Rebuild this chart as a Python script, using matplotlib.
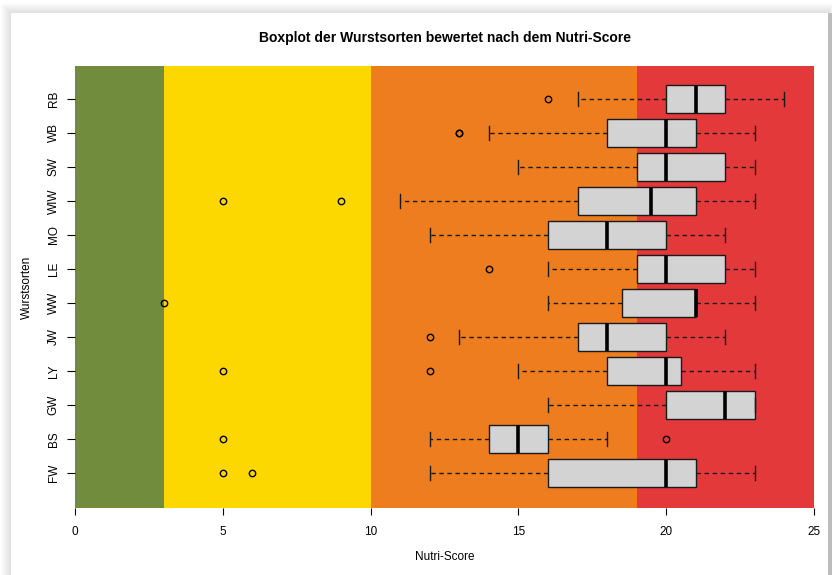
import matplotlib
matplotlib.use("Agg")
import matplotlib.pyplot as plt
from matplotlib.patches import Rectangle

plt.rcParams['font.family'] = ['Liberation Sans', 'DejaVu Sans']

# Wurstsorten (unten -> oben) und ihre Boxplot-Kennzahlen
sorten = ['FW', 'BS', 'GW', 'LY', 'JW', 'WW', 'LE', 'MO', 'WIW', 'SW', 'WB', 'RB']
whisker_lo = [12, 12, 16, 15, 13, 16, 16, 12, 11, 15, 14, 17]
q1 = [16, 14, 20, 18, 17, 18.5, 19, 16, 17, 19, 18, 20]
median = [20, 15, 22, 20, 18, 21, 20, 18, 19.5, 20, 20, 21]
q3 = [21, 16, 23, 20.5, 20, 21, 22, 20, 21, 22, 21, 22]
whisker_hi = [23, 18, 23, 23, 22, 23, 23, 22, 23, 23, 23, 24]
ausreisser = [[5, 6], [5, 20], [], [5, 12], [12], [3], [14], [], [5, 9], [], [13, 13], [16]]

# Nutri-Score Farbbereiche
band_grenzen = [0, 3, 10, 19, 25]
band_farben = ['#708C3C', '#FDD700', '#EE7D1F', '#E4393A']
x_ticks = [0, 5, 10, 15, 20, 25]

W, H = 832, 575
fig = plt.figure(figsize=(W / 100, H / 100), dpi=100)
fig.patch.set_facecolor('white')


def px_rect(x0, y0, x1, y1, **kw):
    """Rechteck in Pixelkoordinaten (Ursprung oben links)."""
    r = Rectangle((x0 / W, 1 - y1 / H), (x1 - x0) / W, (y1 - y0) / H,
                  transform=fig.transFigure, zorder=-10, **kw)
    fig.patches.append(r)
    return r


# weicher Schatten um die Karte
for i in range(10, 0, -1):
    px_rect(11 - i, 13 - i, 829 + i * 0.4, H + 20, facecolor='black',
            edgecolor='none', alpha=0.012)
px_rect(827, 13, W, H, facecolor='#BDBDBD', edgecolor='none')
px_rect(11, 13, 828, H + 20, facecolor='white', edgecolor='none')

ax = fig.add_axes([75 / W, 1 - 508 / H, (814 - 75) / W, (508 - 66) / H])
ax.set_xlim(0, 25)
ax.set_ylim(-0.03, 12.97)
ax.patch.set_alpha(0)

for i in range(len(band_farben)):
    ax.axvspan(band_grenzen[i], band_grenzen[i + 1], color=band_farben[i],
               lw=0, zorder=0)

stats = []
for k in range(len(sorten)):
    stats.append(dict(label=sorten[k], whislo=whisker_lo[k], q1=q1[k],
                      med=median[k], q3=q3[k], whishi=whisker_hi[k],
                      fliers=ausreisser[k]))

ax.bxp(stats, positions=range(1, len(sorten) + 1), vert=False, widths=0.8,
       capwidths=0.4, patch_artist=True,
       boxprops=dict(facecolor='#D3D3D3', edgecolor='#1a1a1a', linewidth=1.0),
       medianprops=dict(color='black', linewidth=2.6, solid_capstyle='butt'),
       whiskerprops=dict(color='#1a1a1a', linewidth=1.0, linestyle=(0, (3.2, 2.6))),
       capprops=dict(color='#1a1a1a', linewidth=1.0),
       flierprops=dict(marker='o', markerfacecolor='none', markeredgecolor='black',
                       markersize=4.6, markeredgewidth=1.0),
       zorder=3)

for s in ax.spines.values():
    s.set_visible(False)

ax.set_xticks(x_ticks)
ax.set_xticklabels([str(t) for t in x_ticks])
ax.set_yticks(range(1, len(sorten) + 1))
ax.set_yticklabels(sorten, rotation=90, va='center')
ax.tick_params(axis='x', length=5, width=0.8, pad=8, labelsize=8.5)
ax.tick_params(axis='y', length=6, width=0.8, pad=5, labelsize=8.5)

fig.text(445 / W, 1 - 38 / H, 'Boxplot der Wurstsorten bewertet nach dem Nutri-Score',
         ha='center', va='center', fontsize=10, fontweight='bold')
fig.text(445 / W, 1 - 557 / H, 'Nutri-Score', ha='center', va='center', fontsize=8.5)
fig.text(27 / W, 1 - 287 / H, 'Wurstsorten', ha='center', va='center',
         rotation=90, fontsize=8.5)

fig.savefig('out.png', dpi=100, facecolor=fig.get_facecolor())
